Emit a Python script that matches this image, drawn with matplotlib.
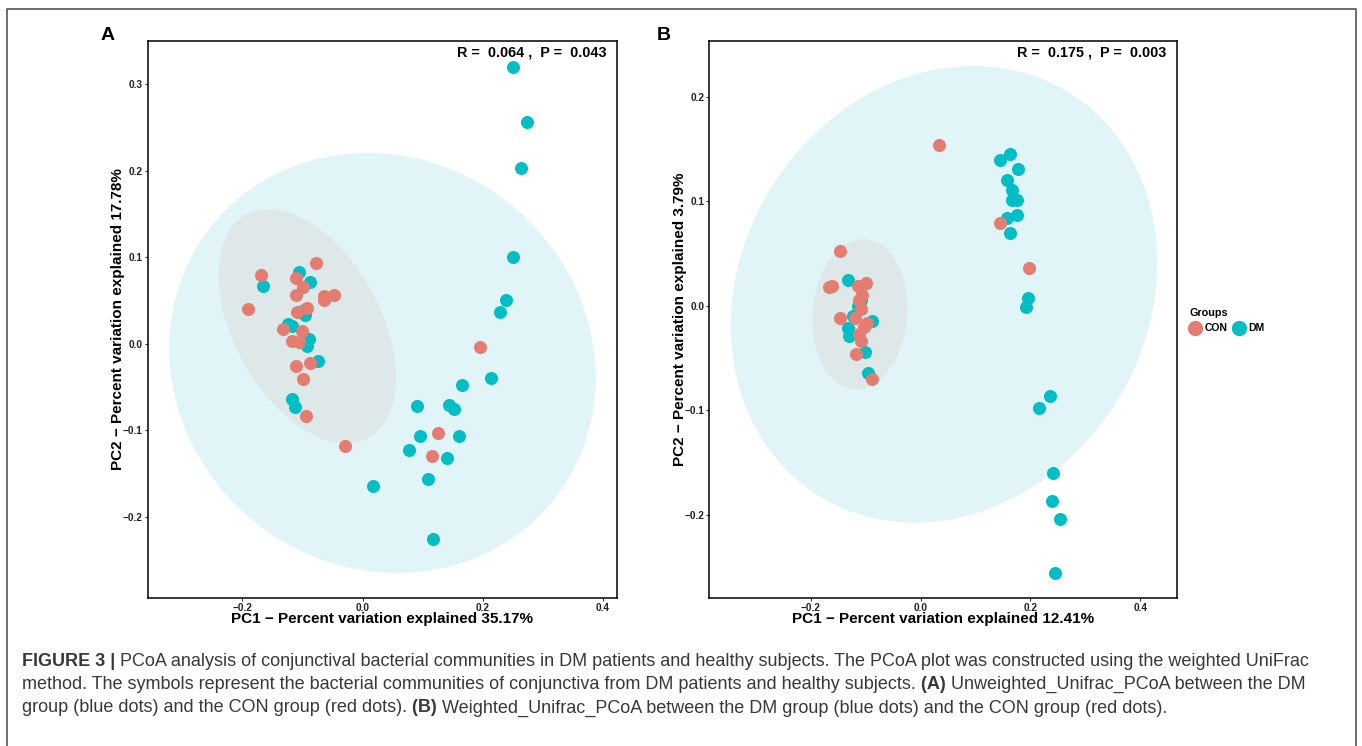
#!/usr/bin/env python
# -*- coding: utf-8 -*-

# plot.py: PCoA scatter plots (panels A and B) with group ellipses and caption

import numpy as np
import matplotlib
matplotlib.use('Agg')
import matplotlib.pyplot as plt
from matplotlib.lines import Line2D

plt.rcParams['font.family'] = ['Liberation Sans', 'DejaVu Sans']

# colours (ggplot defaults, as printed)
CON_COLOR = '#E47C71'
DM_COLOR = '#00BEC4'
DM_FILL = '#E1F5F8'
CON_FILL = '#DEE8E8'

# panel A: unweighted UniFrac
a_con_x = [-0.078, -0.169, -0.110, -0.099, -0.111, -0.064, -0.047, -0.065, -0.191, -0.109,
           -0.092, -0.133, -0.101, -0.117, -0.105, -0.088, -0.110, -0.099, -0.094, -0.029,
           0.195, 0.125, 0.115]
a_con_y = [0.093, 0.079, 0.076, 0.065, 0.056, 0.055, 0.056, 0.050, 0.040, 0.036,
           0.041, 0.017, 0.014, 0.003, 0.002, -0.022, -0.026, -0.041, -0.084, -0.118,
           -0.004, -0.103, -0.130]
a_dm_x = [0.251, 0.274, 0.263, 0.251, 0.239, 0.228, -0.165, -0.105, -0.088, -0.096,
          -0.097, -0.124, -0.117, -0.090, -0.092, -0.074, -0.118, -0.112, 0.166, 0.214,
          0.090, 0.144, 0.152, 0.095, 0.161, 0.078, 0.141, 0.109, 0.018, 0.117]
a_dm_y = [0.320, 0.256, 0.203, 0.100, 0.050, 0.036, 0.066, 0.083, 0.071, 0.033,
          0.039, 0.023, 0.020, 0.005, -0.003, -0.020, -0.064, -0.073, -0.048, -0.040,
          -0.072, -0.071, -0.076, -0.107, -0.107, -0.123, -0.132, -0.156, -0.164, -0.226]

# panel B: weighted UniFrac
b_con_x = [0.034, 0.145, 0.197, -0.146, -0.167, -0.161, -0.115, -0.100, -0.106, -0.109,
           -0.146, -0.119, -0.097, -0.113, -0.109, -0.117, -0.089, -0.104, -0.112]
b_con_y = [0.154, 0.079, 0.036, 0.052, 0.018, 0.019, 0.019, 0.022, 0.010, -0.003,
           -0.012, -0.012, -0.017, -0.027, -0.034, -0.046, -0.070, -0.020, 0.005]
b_dm_x = [0.162, 0.145, 0.178, 0.158, 0.166, 0.167, 0.176, 0.176, 0.157, 0.162,
          0.196, 0.192, -0.132, -0.109, -0.115, -0.123, -0.088, -0.132, -0.131, -0.102,
          -0.095, 0.235, 0.215, 0.241, 0.239, 0.253, 0.244]
b_dm_y = [0.145, 0.139, 0.131, 0.120, 0.111, 0.101, 0.101, 0.087, 0.084, 0.070,
          0.007, -0.001, 0.025, 0.005, 0.000, -0.010, -0.015, -0.021, -0.029, -0.044,
          -0.064, -0.086, -0.098, -0.160, -0.187, -0.204, -0.256]

# group ellipses: centre x, centre y, x half-extent, y half-extent, correlation
a_dm_ell = (0.033, -0.0224, 0.355, 0.2427, -0.070)
a_con_ell = (-0.092, 0.020, 0.1478, 0.1354, -0.438)
b_dm_ell = (0.0426, 0.0109, 0.3885, 0.2185, 0.138)
b_con_ell = (-0.1106, -0.0081, 0.0866, 0.0719, 0.074)

# axis texts
a_stats = 'R =  0.064 ,  P =  0.043'
b_stats = 'R =  0.175 ,  P =  0.003'
a_xlabel = 'PC1 \u2212 Percent variation explained 35.17%'
a_ylabel = 'PC2 \u2212 Percent variation explained 17.78%'
b_xlabel = 'PC1 \u2212 Percent variation explained 12.41%'
b_ylabel = 'PC2 \u2212 Percent variation explained 3.79%'

caption_lines = [
    [('FIGURE 3 |', True),
     (' PCoA analysis of conjunctival bacterial communities in DM patients and healthy '
      'subjects. The PCoA plot was constructed using the weighted UniFrac', False)],
    [('method. The symbols represent the bacterial communities of conjunctiva from DM '
      'patients and healthy subjects.', False),
     (' (A)', True),
     (' Unweighted_Unifrac_PCoA between the DM', False)],
    [('group (blue dots) and the CON group (red dots).', False),
     (' (B)', True),
     (' Weighted_Unifrac_PCoA between the DM group (blue dots) and the CON group '
      '(red dots).', False)],
]

W, H = 1362.0, 746.0


def draw_ellipse(ax, params, color):
    cx, cy, sx, sy, rho = params
    t = np.linspace(0, 2 * np.pi, 300)
    x = cx + sx * np.cos(t)
    y = cy + sy * (rho * np.cos(t) + np.sqrt(1 - rho ** 2) * np.sin(t))
    ax.fill(x, y, color=color, lw=0, zorder=1)


def pcoa_panel(ax, con_x, con_y, dm_x, dm_y, dm_ell, con_ell, stats,
               xlabel, ylabel, xlim, ylim, yticks):
    draw_ellipse(ax, dm_ell, DM_FILL)
    draw_ellipse(ax, con_ell, CON_FILL)
    ax.scatter(dm_x, dm_y, s=88, color=DM_COLOR, linewidths=0, zorder=3)
    ax.scatter(con_x, con_y, s=88, color=CON_COLOR, linewidths=0, zorder=4)

    ax.set_xlim(*xlim)
    ax.set_ylim(*ylim)
    ax.set_xticks([-0.2, 0.0, 0.2, 0.4])
    ax.set_yticks(yticks)
    ax.tick_params(direction='out', length=2.5, width=0.8, color='#333333',
                   pad=1, labelsize=7.3, labelcolor='#222222')
    for lab in ax.get_xticklabels() + ax.get_yticklabels():
        lab.set_fontweight('bold')
    for sp in ax.spines.values():
        sp.set_linewidth(1.1)
        sp.set_color('black')

    ax.set_xlabel(xlabel, fontsize=11, fontweight='bold', va='center')
    ax.xaxis.set_label_coords(0.5, -0.037)
    ax.set_ylabel(ylabel, fontsize=11, fontweight='bold', va='center')
    ax.yaxis.set_label_coords(-0.062, 0.5)

    ax.text(0.978, 0.980, stats, transform=ax.transAxes, ha='right', va='center',
            fontsize=10.4, fontweight='bold')


def draw_caption(fig, x, y, runs, renderer):
    for text, bold in runs:
        t = fig.text(x, y, text, fontsize=13.0, color='#383838', va='center',
                     fontweight='bold' if bold else 'normal')
        bb = t.get_window_extent(renderer)
        x = bb.x1 / fig.bbox.width


def main():
    fig = plt.figure(figsize=(W / 100, H / 100), dpi=100)
    fig.patch.set_facecolor('white')

    ax_a = fig.add_axes([147.5 / W, 1 - 598 / H, (617 - 147.5) / W, (598 - 41) / H])
    ax_b = fig.add_axes([709.3 / W, 1 - 598 / H, (1177 - 709.3) / W, (598 - 41) / H])

    pcoa_panel(ax_a, a_con_x, a_con_y, a_dm_x, a_dm_y, a_dm_ell, a_con_ell, a_stats,
               a_xlabel, a_ylabel, (-0.358, 0.4235), (-0.294, 0.3497),
               [-0.2, -0.1, 0.0, 0.1, 0.2, 0.3])
    pcoa_panel(ax_b, b_con_x, b_con_y, b_dm_x, b_dm_y, b_dm_ell, b_con_ell, b_stats,
               b_xlabel, b_ylabel, (-0.385, 0.467), (-0.2797, 0.2533),
               [-0.2, -0.1, 0.0, 0.1, 0.2])

    # panel letters
    fig.text(108 / W, 1 - 35 / H, 'A', fontsize=14, fontweight='bold',
             ha='center', va='center')
    fig.text(664 / W, 1 - 35 / H, 'B', fontsize=14, fontweight='bold',
             ha='center', va='center')

    # legend outside panel B
    handles = [Line2D([], [], marker='o', ls='', markersize=11, color=CON_COLOR, mew=0),
               Line2D([], [], marker='o', ls='', markersize=11, color=DM_COLOR, mew=0)]
    fig.legend(handles, ['CON', 'DM'], title='Groups', ncol=2, loc='upper left',
               bbox_to_anchor=(1189 / W, 1 - 308 / H), frameon=False,
               prop={'weight': 'bold', 'size': 7.5},
               title_fontproperties={'weight': 'bold', 'size': 7.8},
               handletextpad=0.3, columnspacing=0.45, handlelength=1.2,
               borderpad=0, borderaxespad=0, alignment='left')

    # outer frame of the figure
    fig.add_artist(Line2D([7 / W, 7 / W, 1356 / W, 1356 / W],
                          [0, 1 - 9 / H, 1 - 9 / H, 0],
                          color='#555555', lw=1.2))

    # caption
    renderer = fig.canvas.get_renderer()
    for i, runs in enumerate(caption_lines):
        draw_caption(fig, 22 / W, 1 - (661 + 23.5 * i) / H, runs, renderer)

    fig.savefig('out.png', dpi=100)


if __name__ == '__main__':
    main()
